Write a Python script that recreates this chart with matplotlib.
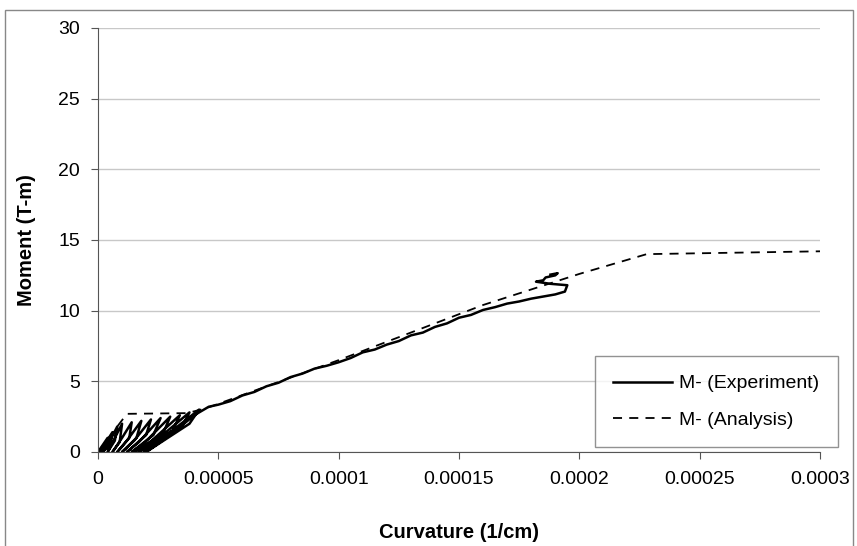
import matplotlib.pyplot as plt
from matplotlib.patches import Rectangle

plt.rcParams['font.family'] = ['Liberation Sans', 'DejaVu Sans']

# Experiment: cyclic loops near the origin, then the loading envelope
exp_x = [0, 2e-6, 4e-6, 3e-6, 1e-6, 3e-6, 6e-6, 5e-6, 2e-6, 5e-6,
         8e-6, 7e-6, 4e-6, 7e-6, 10e-6, 9e-6, 6e-6, 10e-6, 14e-6, 13e-6,
         8e-6, 12e-6, 18e-6, 16e-6, 10e-6, 15e-6, 22e-6, 20e-6, 12e-6, 17e-6,
         26e-6, 23e-6, 14e-6, 19e-6, 30e-6, 27e-6, 15e-6, 21e-6, 34e-6, 31e-6,
         17e-6, 24e-6, 38e-6, 35e-6, 19e-6, 27e-6, 42e-6, 38e-6, 20e-6, 30e-6,
         40e-6, 46e-6,
         50e-6, 55e-6, 60e-6, 65e-6, 70e-6, 75e-6, 80e-6, 85e-6, 90e-6, 95e-6,
         100e-6, 105e-6, 110e-6, 115e-6, 120e-6, 125e-6, 130e-6, 135e-6, 140e-6, 145e-6,
         150e-6, 155e-6, 160e-6, 165e-6, 170e-6, 175e-6, 180e-6, 185e-6, 190e-6, 194e-6,
         195e-6, 188e-6, 182e-6, 185e-6, 186e-6, 190e-6, 191e-6, 188e-6]
exp_y = [0, 0.5, 1.0, 0.3, 0, 0.6, 1.4, 0.5, 0, 0.8,
         1.8, 0.8, 0, 1.0, 2.0, 0.7, 0, 1.0, 2.1, 1.0,
         0, 0.8, 2.2, 1.0, 0, 0.8, 2.3, 1.2, 0, 0.7,
         2.4, 1.2, 0, 0.6, 2.5, 1.3, 0, 0.6, 2.6, 1.5,
         0, 0.8, 2.8, 1.8, 0, 1.0, 3.0, 2.0, 0, 1.2,
         2.6, 3.2,
         3.35, 3.6, 4.0, 4.25, 4.65, 4.9, 5.3, 5.55, 5.9, 6.1,
         6.35, 6.65, 7.05, 7.25, 7.6, 7.85, 8.25, 8.45, 8.85, 9.1,
         9.5, 9.7, 10.05, 10.25, 10.5, 10.65, 10.85, 11.0, 11.15, 11.35,
         11.8, 11.9, 12.05, 12.15, 12.35, 12.5, 12.65, 12.55]

# Analysis
ana_x = [0, 0.000012, 0.000037, 0.000045, 0.0001, 0.00016, 0.0002, 0.000228, 0.0003]
ana_y = [0, 2.7, 2.75, 3.1, 6.5, 10.4, 12.6, 14.0, 14.2]

xticks = [0, 0.00005, 0.0001, 0.00015, 0.0002, 0.00025, 0.0003]
xticklabels = ['0', '0.00005', '0.0001', '0.00015', '0.0002', '0.00025', '0.0003']
yticks = [0, 5, 10, 15, 20, 25, 30]

fig = plt.figure(figsize=(8.57, 5.46), dpi=100)
ax = fig.add_axes([98/857, 1-452/546, 722/857, 424/546])

# outer chart frame
fig.patches.append(Rectangle((5/857, -0.01), 848/857, 1-10/546+0.01,
                             transform=fig.transFigure, fill=False,
                             edgecolor='#888888', linewidth=1))

ax.plot(exp_x, exp_y, color='black', linewidth=1.8, label='M- (Experiment)')
ax.plot(ana_x, ana_y, color='black', linewidth=1.3, linestyle=(0, (5, 4)),
        label='M- (Analysis)')

ax.set_xlim(0, 0.0003)
ax.set_ylim(0, 30)
ax.set_xticks(xticks)
ax.set_xticklabels(xticklabels)
ax.set_yticks(yticks)
ax.yaxis.grid(True, color='#c8c8c8', linewidth=1)
ax.set_axisbelow(True)

for s in ['top', 'right']:
    ax.spines[s].set_visible(False)
for s in ['left', 'bottom']:
    ax.spines[s].set_color('#555555')
ax.tick_params(direction='out', length=5, color='#555555', labelsize=14)
ax.tick_params(axis='x', pad=9)
ax.tick_params(axis='y', pad=8)

ax.set_xlabel('Curvature (1/cm)', fontsize=14.5, fontweight='bold', labelpad=25)
ax.set_ylabel('Moment (T-m)', fontsize=14.5, fontweight='bold', labelpad=16)

leg = ax.legend(loc='lower right', bbox_to_anchor=(1.025, 0.0118), fontsize=14,
                frameon=True, fancybox=False, handlelength=3.0, handletextpad=0.4,
                borderpad=0.95, labelspacing=0.95, borderaxespad=0)
leg.get_frame().set_edgecolor('#777777')
leg.get_frame().set_linewidth(1)

fig.savefig('out.png', dpi=100)
